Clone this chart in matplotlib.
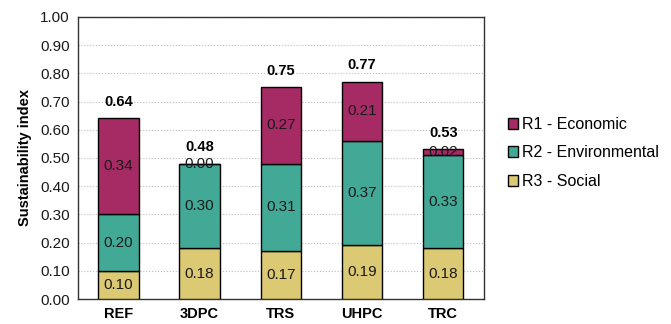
import numpy as np
import matplotlib.pyplot as plt

plt.rcParams['font.family'] = ['Liberation Sans', 'DejaVu Sans']

categories = ['REF', '3DPC', 'TRS', 'UHPC', 'TRC']
social = [0.10, 0.18, 0.17, 0.19, 0.18]
environmental = [0.20, 0.30, 0.31, 0.37, 0.33]
economic = [0.34, 0.00, 0.27, 0.21, 0.02]
totals = [0.64, 0.48, 0.75, 0.77, 0.53]
series_names = ['R1 - Economic', 'R2 - Environmental', 'R3 - Social']

colors = {'econ': '#A62A64', 'env': '#43A997', 'soc': '#DCC974'}

fig = plt.figure(figsize=(6.71, 3.24), dpi=100)
ax = fig.add_axes([0.116, 0.077, 0.605, 0.871])

x = np.arange(len(categories))
w = 0.5
soc = np.array(social)
env = np.array(environmental)
eco = np.array(economic)

b_soc = ax.bar(x, soc, w, color=colors['soc'], edgecolor='black', linewidth=1, zorder=3)
b_env = ax.bar(x, env, w, bottom=soc, color=colors['env'], edgecolor='black', linewidth=1, zorder=3)
b_eco = ax.bar(x, eco, w, bottom=soc + env, color=colors['econ'], edgecolor='black', linewidth=1, zorder=3)

# segment labels
for vals, bottoms in [(soc, np.zeros(len(x))), (env, soc), (eco, soc + env)]:
    for i, v in enumerate(vals):
        ax.text(x[i], bottoms[i] + v / 2, '%.2f' % v, ha='center', va='center',
                fontsize=11, color='#1a1a1a', zorder=4)

# totals on top
for i, t in enumerate(totals):
    top = soc[i] + env[i] + eco[i]
    ax.text(x[i], top + 0.035, '%.2f' % t, ha='center', va='bottom', fontsize=10.5, fontweight='bold', zorder=4)

ax.set_xlim(-0.5, len(categories) - 0.5)
ax.set_ylim(0, 1.0)
ax.set_yticks(np.arange(0, 1.01, 0.1))
ax.set_yticklabels(['%.2f' % v for v in np.arange(0, 1.01, 0.1)], fontsize=11, color='#1a1a1a')
ax.set_xticks(x)
ax.set_xticklabels(categories, fontsize=10.5, fontweight='bold')
ax.tick_params(length=0, pad=6)
ax.set_ylabel('Sustainability index', fontsize=10.5, fontweight='bold', labelpad=6)
ax.yaxis.grid(True, linestyle=':', color='#bbbbbb', linewidth=0.8, zorder=0)
for s in ax.spines.values():
    s.set_color('#333333')
    s.set_linewidth(1)

handles = [b_eco, b_env, b_soc]
fig.legend(handles, series_names, loc='center left', bbox_to_anchor=(0.757, 0.528),
           frameon=False, fontsize=11.5, handlelength=0.65, handleheight=0.65,
           handletextpad=0.2, labelspacing=0.85, borderpad=0, borderaxespad=0)

fig.savefig('out.png', dpi=100)
